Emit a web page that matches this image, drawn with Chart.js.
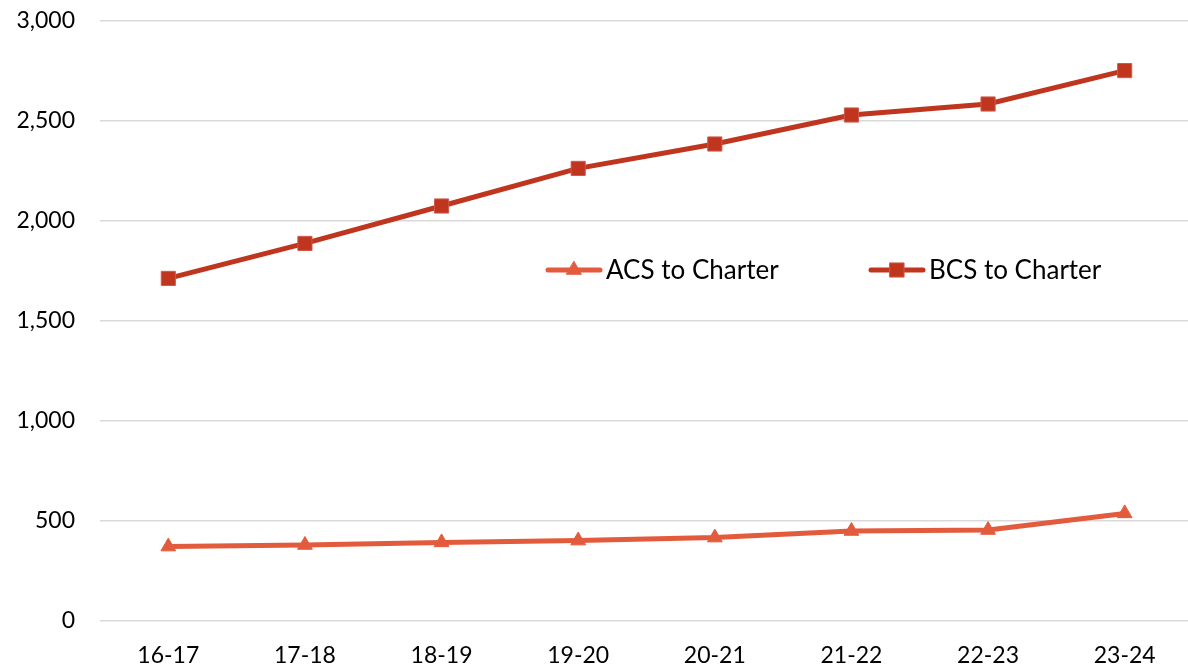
<!DOCTYPE html>
<html>
<head>
<meta charset="utf-8">
<script src="https://cdn.jsdelivr.net/npm/chart.js@4.4.0/dist/chart.umd.min.js"></script>
<style>
    html, body { margin: 0; padding: 0; background: #ffffff; overflow: hidden; }
    #wrap { position: absolute; left: 0; top: 0; width: 1204px; height: 669px; }
</style>
</head>
<body>
<div id="wrap"><canvas id="grafico"></canvas></div>
<script>
// dados do gráfico
const anos = ['16-17', '17-18', '18-19', '19-20', '20-21', '21-22', '22-23', '23-24'];
const acsCharter = [372, 380, 393, 402, 417, 450, 455, 538];
const bcsCharter = [1713, 1888, 2075, 2263, 2385, 2530, 2585, 2752];
const nomesSeries = ['ACS to Charter', 'BCS to Charter'];
const eixoY = { min: 0, max: 3000, passo: 500 };

const corAcs = '#e35b3d';
const corBcs = '#bf351e';
const fonte = 'Lato, "Open Sans", sans-serif';

/**
 * Legenda desenhada dentro da área do gráfico (linha + marcador + texto)
 */
const legendaInterna = {
    id: 'legendaInterna',
    afterDraw(chart) {
        const ctx = chart.ctx;
        const y = 270;
        const itens = [
            { x: 546, cor: corAcs, estilo: 'triangle', raio: 8.5, borda: corAcs, texto: nomesSeries[0] },
            { x: 869, cor: corBcs, estilo: 'rect', raio: 10, borda: '#cf5a4c', texto: nomesSeries[1] }
        ];
        ctx.save();
        itens.forEach(item => {
            ctx.strokeStyle = item.cor;
            ctx.lineWidth = 5;
            ctx.lineCap = 'round';
            ctx.beginPath();
            ctx.moveTo(item.x + 2, y);
            ctx.lineTo(item.x + 54, y);
            ctx.stroke();
            ctx.fillStyle = item.cor;
            ctx.strokeStyle = item.borda;
            ctx.lineWidth = 1;
            Chart.helpers.drawPoint(ctx, { pointStyle: item.estilo, radius: item.raio, borderWidth: 1 }, item.x + 28, y);
            ctx.fillStyle = '#000000';
            ctx.font = '26px ' + fonte;
            ctx.textBaseline = 'middle';
            ctx.textAlign = 'left';
            ctx.fillText(item.texto, item.x + 60, y + 1);
        });
        ctx.restore();
    }
};

const grafico = new Chart(document.getElementById('grafico'), {
    type: 'line',
    data: {
        labels: anos,
        datasets: [
            {
                label: nomesSeries[0],
                data: acsCharter,
                borderColor: corAcs,
                backgroundColor: corAcs,
                borderWidth: 5,
                pointStyle: 'triangle',
                pointRadius: 8.5,
                pointBorderColor: corAcs,
                pointBorderWidth: 1,
                tension: 0
            },
            {
                label: nomesSeries[1],
                data: bcsCharter,
                borderColor: corBcs,
                backgroundColor: corBcs,
                borderWidth: 5,
                pointStyle: 'rect',
                pointRadius: 10,
                pointBorderColor: '#cf5a4c',
                pointBorderWidth: 1,
                tension: 0
            }
        ]
    },
    options: {
        responsive: true,
        maintainAspectRatio: false,
        animation: false,
        layout: { padding: { left: 0, top: 21, right: 0, bottom: 0 } },
        scales: {
            x: {
                offset: true,
                grid: { display: false, drawTicks: false },
                border: { display: false },
                ticks: { color: '#000000', padding: 21, font: { family: fonte, size: 23 } },
                afterFit: scale => { scale.height = 48; }
            },
            y: {
                min: eixoY.min,
                max: eixoY.max,
                grid: { color: '#d9d9d9', lineWidth: 1.5, drawTicks: false },
                border: { display: false },
                ticks: {
                    stepSize: eixoY.passo,
                    padding: 25,
                    color: '#000000',
                    font: { family: fonte, size: 23 },
                    callback: v => v.toLocaleString('en-US')
                },
                afterFit: scale => {
                    scale.width = 100;
                    scale.paddingTop = 0;
                    scale.paddingBottom = 0;
                }
            }
        },
        plugins: {
            legend: { display: false },
            tooltip: { enabled: false }
        }
    },
    plugins: [legendaInterna]
});
</script>
</body>
</html>
